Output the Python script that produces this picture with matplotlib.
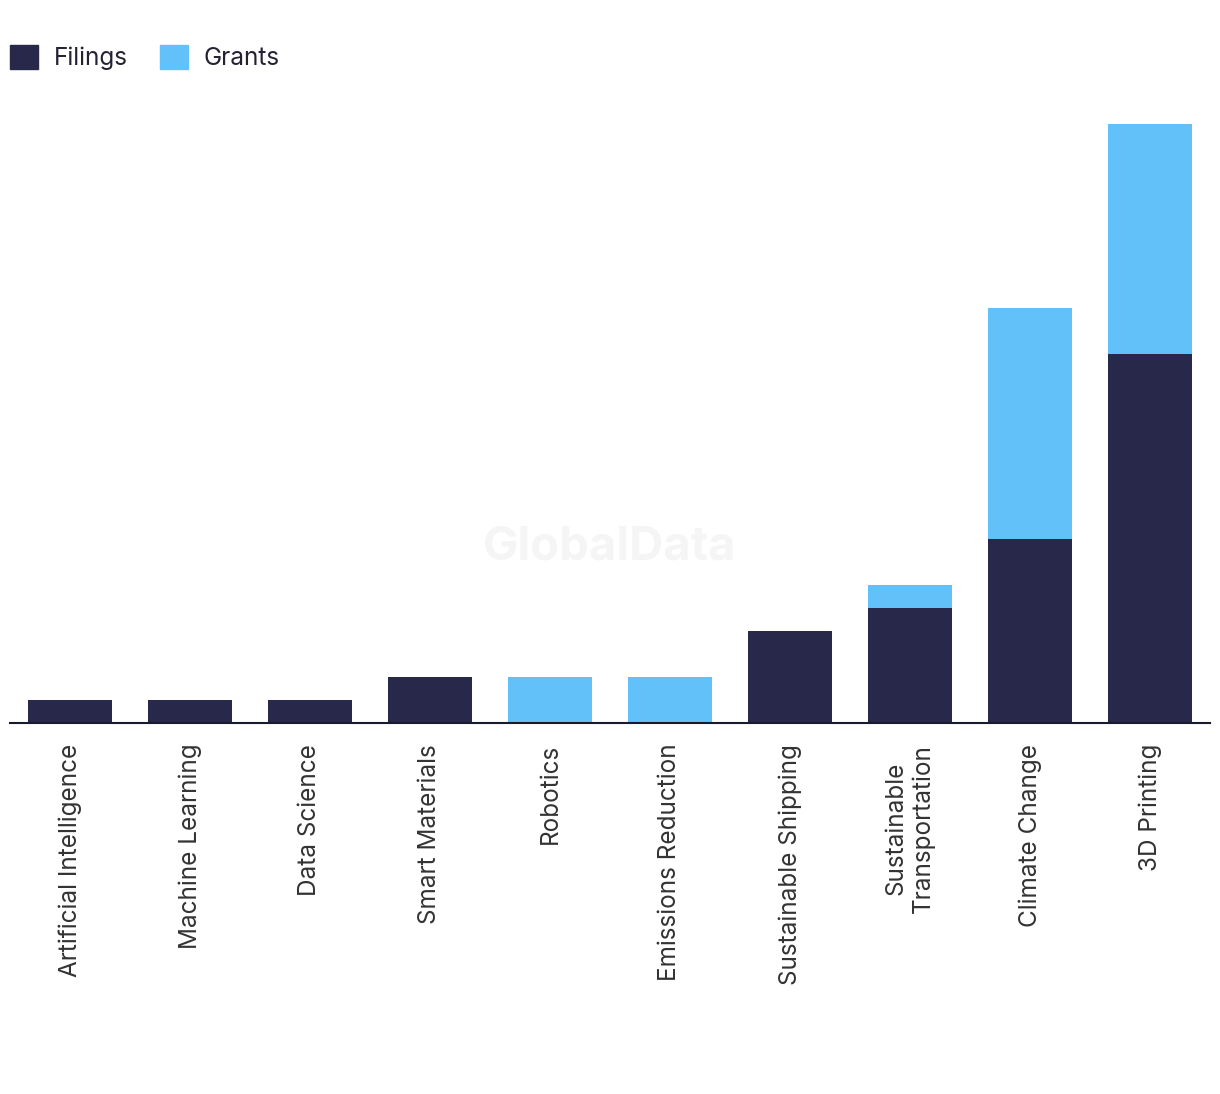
import numpy as np
import matplotlib.pyplot as plt
from matplotlib.patches import Patch

plt.rcParams['font.family'] = ['Inter', 'DejaVu Sans']

categories = ['Artificial Intelligence', 'Machine Learning', 'Data Science',
              'Smart Materials', 'Robotics', 'Emissions Reduction',
              'Sustainable Shipping', 'Sustainable\nTransportation',
              'Climate Change', '3D Printing']
filings = [1, 1, 1, 2, 0, 0, 4, 5, 8, 16]
grants = [0, 0, 0, 0, 2, 2, 0, 1, 10, 10]

dark = '#28284a'
light = '#62c1f8'

fig = plt.figure(figsize=(12.2, 10.94), dpi=100)
ax = fig.add_axes([10 / 1220, 1 - 723 / 1094, 1200 / 1220, 623 / 1094])

x = np.arange(len(categories))
ax.bar(x, filings, width=0.7, color=dark)
ax.bar(x, grants, width=0.7, bottom=filings, color=light)

ax.set_xlim(-0.5, len(categories) - 0.5)
ax.set_ylim(0, 27.04)
ax.set_yticks([])
for s in ['top', 'right', 'left']:
    ax.spines[s].set_visible(False)
ax.spines['bottom'].set_color('#1a1a2e')
ax.spines['bottom'].set_linewidth(1.5)

ax.set_xticks(x)
ax.set_xticklabels(categories, rotation=90, fontsize=17.5, color='#333333',
                   va='top', ha='center', multialignment='center')
ax.tick_params(axis='x', length=0, pad=15)

fig.text(0.5, 1 - 548 / 1094, 'GlobalData', fontsize=34, fontweight='bold',
         color='#f5f5f5', ha='center', va='center', zorder=0)

handles = [Patch(color=dark, label='Filings'), Patch(color=light, label='Grants')]
fig.legend(handles=handles, loc='upper left', bbox_to_anchor=(10 / 1220, 1 - 45 / 1094),
           ncol=2, frameon=False, fontsize=17.5, handlelength=1.16, handleheight=1.16,
           handletextpad=0.65, columnspacing=1.3, borderaxespad=0, borderpad=0,
           labelcolor='#222233')

fig.savefig('out.png', dpi=100)
